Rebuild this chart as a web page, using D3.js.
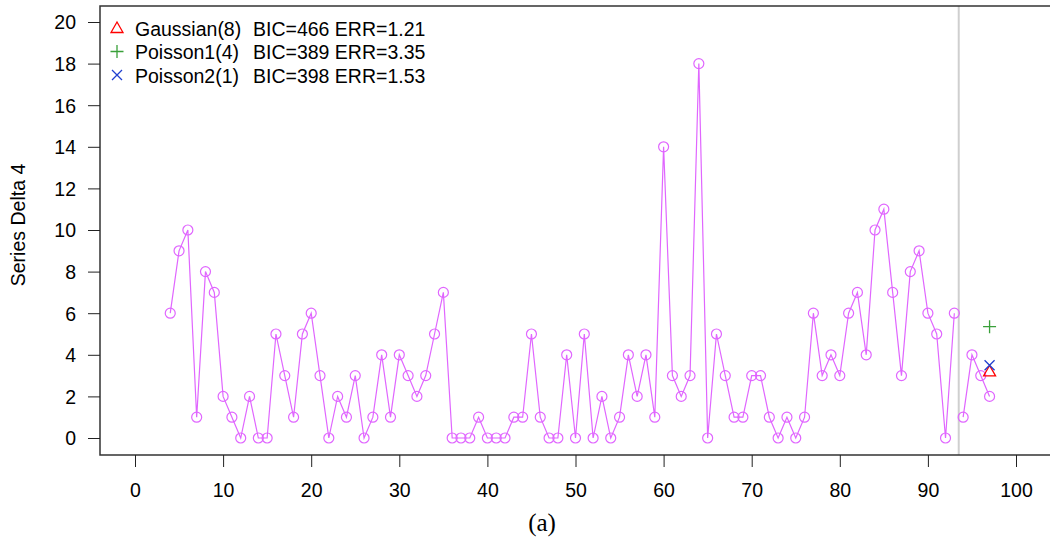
<!DOCTYPE html>
<html>
<head>
<meta charset="utf-8">
<script src="https://cdn.jsdelivr.net/npm/d3@7"></script>
<style>
  body { margin: 0; background: #fff; }
</style>
</head>
<body>
<div id="chart"></div>
<script>
// observed series, split at the vertical marker
var obsX1 = [4,5,6,7,8,9,10,11,12,13,14,15,16,17,18,19,20,21,22,23,24,25,26,27,28,29,30,31,32,33,34,35,36,37,38,39,40,41,42,43,44,45,46,47,48,49,50,51,52,53,54,55,56,57,58,59,60,61,62,63,64,65,66,67,68,69,70,71,72,73,74,75,76,77,78,79,80,81,82,83,84,85,86,87,88,89,90,91,92,93];
var obsY1 = [6,9,10,1,8,7,2,1,0,2,0,0,5,3,1,5,6,3,0,2,1,3,0,1,4,1,4,3,2,3,5,7,0,0,0,1,0,0,0,1,1,5,1,0,0,4,0,5,0,2,0,1,4,2,4,1,14,3,2,3,18,0,5,3,1,1,3,3,1,0,1,0,1,6,3,4,3,6,7,4,10,11,7,3,8,9,6,5,0,6];
var obsX2 = [94,95,96,97];
var obsY2 = [1,4,3,2];
var splitAt = 93.5;

var models = ["Gaussian(8)", "Poisson1(4)", "Poisson2(1)"];
var modelBIC = [466, 389, 398];
var modelERR = ["1.21", "3.35", "1.53"];
var predX = [97, 97, 97];
var predY = [3.2, 5.35, 3.5];
var modelColors = ["#ff0000", "#3aa03a", "#2040d0"];

var xTicks = [0,10,20,30,40,50,60,70,80,90,100];
var yTicks = [0,2,4,6,8,10,12,14,16,18,20];

var width = 1050, height = 544;
var margin = {top: 6, right: 0, bottom: 89, left: 100};
var sans = "'Liberation Sans', Arial, sans-serif";

var svg = d3.select("#chart").append("svg")
  .attr("width", width)
  .attr("height", height)
  .style("font-family", sans);

var x = d3.scaleLinear().domain([0, 100]).range([135, 1016]);
var y = d3.scaleLinear().domain([0, 20]).range([438, 22]);

var plotTop = margin.top, plotBottom = height - margin.bottom, plotLeft = margin.left;

// marker line
svg.append("line")
  .attr("x1", x(splitAt)).attr("x2", x(splitAt))
  .attr("y1", plotTop).attr("y2", plotBottom)
  .attr("stroke", "#cfcfcf").attr("stroke-width", 2);

// frame (left, top, bottom; right side runs off the page)
svg.append("path")
  .attr("d", "M" + width + "," + plotTop + "H" + plotLeft + "V" + plotBottom + "H" + width)
  .attr("fill", "none").attr("stroke", "#333").attr("stroke-width", 1.5);

var xAxis = d3.axisBottom(x).tickValues(xTicks).tickSize(12).tickSizeOuter(0);
var gx = svg.append("g")
  .attr("transform", "translate(0," + plotBottom + ")")
  .call(xAxis);
gx.select(".domain").remove();
gx.selectAll("line").attr("stroke", "#222");
gx.selectAll("text").attr("fill", "#000").attr("dy", 0).attr("y", 42)
  .style("font-size", "19.5px")
  .style("font-family", sans);

var yAxis = d3.axisLeft(y).tickValues(yTicks).tickSize(12).tickSizeOuter(0);
var gy = svg.append("g")
  .attr("transform", "translate(" + plotLeft + ",0)")
  .call(yAxis);
gy.select(".domain").remove();
gy.selectAll("line").attr("stroke", "#222");
gy.selectAll("text").attr("fill", "#000").attr("x", -24).attr("dy", "0.35em")
  .style("font-size", "19.5px").style("font-family", sans);

// axis title
svg.append("text")
  .attr("transform", "translate(25," + 225 + ") rotate(-90)")
  .attr("text-anchor", "middle")
  .style("font-size", "19.5px")
  .text("Series Delta 4");

svg.append("text")
  .attr("x", 542).attr("y", 531)
  .attr("text-anchor", "middle")
  .style("font-family", "'Liberation Serif', 'Times New Roman', serif")
  .style("font-size", "25px")
  .text("(a)");

var line = d3.line().x(function(d){ return x(d[0]); }).y(function(d){ return y(d[1]); });
var seg1 = d3.zip(obsX1, obsY1), seg2 = d3.zip(obsX2, obsY2);
var purple = "#e066ff";

[seg1, seg2].forEach(function(seg){
  svg.append("path")
    .attr("d", line(seg))
    .attr("fill", "none")
    .attr("stroke", purple)
    .attr("stroke-width", 1.2);

  svg.append("g").selectAll("circle")
    .data(seg)
    .enter().append("circle")
    .attr("cx", function(d){ return x(d[0]); })
    .attr("cy", function(d){ return y(d[1]); })
    .attr("r", 5)
    .attr("fill", "none")
    .attr("stroke", purple)
    .attr("stroke-width", 1.2);
});

// model symbols: triangle, plus, cross
function drawSymbol(g, i, cx, cy) {
  var c = modelColors[i];
  if (i === 0) {
    var s = 6;
    g.append("path")
      .attr("d", "M" + cx + "," + (cy - s) + "L" + (cx + s) + "," + (cy + s * 0.75) + "L" + (cx - s) + "," + (cy + s * 0.75) + "Z")
      .attr("fill", "none").attr("stroke", c).attr("stroke-width", 1.3);
  } else if (i === 1) {
    var s1 = 6.5;
    g.append("path")
      .attr("d", "M" + (cx - s1) + "," + cy + "H" + (cx + s1) + "M" + cx + "," + (cy - s1) + "V" + (cy + s1))
      .attr("stroke", c).attr("stroke-width", 1.3);
  } else {
    var s2 = 5;
    g.append("path")
      .attr("d", "M" + (cx - s2) + "," + (cy - s2) + "L" + (cx + s2) + "," + (cy + s2) + "M" + (cx + s2) + "," + (cy - s2) + "L" + (cx - s2) + "," + (cy + s2))
      .attr("stroke", c).attr("stroke-width", 1.3);
  }
}

var gp = svg.append("g");
models.forEach(function(m, i){
  drawSymbol(gp, i, x(predX[i]), y(predY[i]));
});

// legend: name column, then stats column
var legend = svg.append("g");
models.forEach(function(m, i){
  var ly = 29 + i * 23.5;
  drawSymbol(legend, i, 117, ly - 1);
  legend.append("text")
    .attr("x", 135).attr("y", ly)
    .attr("dy", "0.35em")
    .style("font-size", "19.5px")
    .text(m);
  legend.append("text")
    .attr("x", 253).attr("y", ly)
    .attr("dy", "0.35em")
    .style("font-size", "19.5px")
    .text("BIC=" + modelBIC[i] + " ERR=" + modelERR[i]);
});
</script>
</body>
</html>
